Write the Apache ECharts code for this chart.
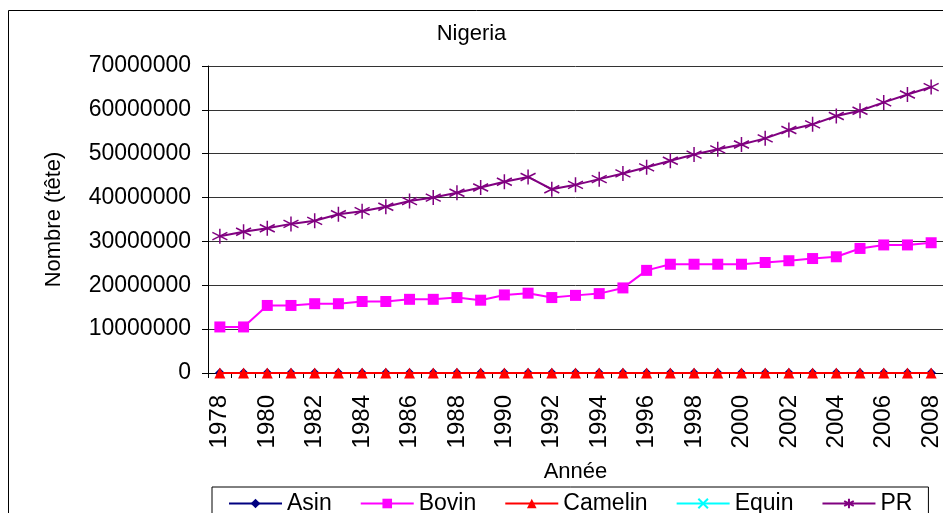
<!DOCTYPE html>
<html>
<head>
<meta charset="utf-8">
<script src="https://cdn.jsdelivr.net/npm/echarts@6/dist/echarts.min.js"></script>
<style>html,body{margin:0;padding:0;background:#fff;}#c{width:943px;height:513px;}</style>
</head>
<body>
<div id="c"></div>
<script>
const years = ['1978','1979','1980','1981','1982','1983','1984','1985','1986','1987','1988','1989','1990','1991','1992','1993','1994','1995','1996','1997','1998','1999','2000','2001','2002','2003','2004','2005','2006','2007','2008'];
const asin = [0,0,0,0,0,0,0,0,0,0,0,0,0,0,0,0,0,0,0,0,0,0,0,0,0,0,0,0,0,0,0];
const bovin = [10500000,10500000,15400000,15400000,15800000,15800000,16300000,16300000,16800000,16800000,17200000,16600000,17800000,18200000,17200000,17700000,18100000,19400000,23400000,24800000,24800000,24800000,24800000,25200000,25600000,26100000,26500000,28400000,29200000,29200000,29700000];
const camelin = [0,0,0,0,0,0,0,0,0,0,0,0,0,0,0,0,0,0,0,0,0,0,0,0,0,0,0,0,0,0,0];
const equin = [];
const pr = [31200000,32200000,33000000,34000000,34700000,36200000,36900000,37900000,39200000,40000000,41100000,42300000,43600000,44700000,41900000,42900000,44200000,45500000,46900000,48400000,49800000,51000000,52100000,53500000,55400000,56700000,58600000,59800000,61700000,63500000,65200000];
const yTicks = {min: 0, max: 70000000, interval: 10000000};

const FONT = "'Liberation Sans', Arial, sans-serif";
const star = 'path://M0,-1L0,1M-0.87,-0.5L0.87,0.5M-0.87,0.5L0.87,-0.5';
const cross = 'path://M-1,-1L1,1M-1,1L1,-1';

const chart = echarts.init(document.getElementById('c'), null, {renderer: 'canvas'});
chart.setOption({
  animation: false,
  backgroundColor: '#fff',
  textStyle: {fontFamily: FONT, color: '#000'},
  title: {
    text: 'Nigeria', left: 'center', top: 18,
    textStyle: {fontFamily: FONT, fontSize: 22, fontWeight: 'normal', color: '#000'}
  },
  graphic: [{
    type: 'rect', silent: true,
    shape: {x: 8.5, y: 10.5, width: 1000, height: 600},
    style: {fill: 'none', stroke: '#000', lineWidth: 1}
  }],
  legend: {
    left: 212, top: 487,
    padding: [5, 16, 12, 16],
    borderColor: '#000', borderWidth: 1,
    itemWidth: 53, itemHeight: 12, itemGap: 28,
    textStyle: {fontFamily: FONT, fontSize: 23, color: '#000'},
    data: ['Asin', 'Bovin', 'Camelin', 'Equin', 'PR']
  },
  grid: {left: 208, top: 66, width: 744, height: 307, containLabel: false},
  xAxis: {
    type: 'category', data: years, boundaryGap: true,
    name: 'Année', nameLocation: 'middle', nameGap: 88,
    nameTextStyle: {fontFamily: FONT, fontSize: 22, color: '#000'},
    axisLine: {lineStyle: {color: '#000', width: 1}},
    axisTick: {show: true, interval: 0, length: 5, lineStyle: {color: '#000'}},
    axisLabel: {interval: 1, rotate: 90, margin: 22, fontFamily: FONT, fontSize: 24, color: '#000'},
    splitLine: {show: false}
  },
  yAxis: {
    type: 'value', min: yTicks.min, max: yTicks.max, interval: yTicks.interval,
    name: 'Nombre (tête)', nameLocation: 'middle', nameGap: 143,
    nameTextStyle: {fontFamily: FONT, fontSize: 22, color: '#000'},
    axisLine: {show: true, lineStyle: {color: '#000', width: 1}},
    axisTick: {show: true, length: 6, lineStyle: {color: '#000'}},
    axisLabel: {margin: 17, fontFamily: FONT, fontSize: 23, color: '#000', formatter: v => String(v)},
    splitLine: {show: true, lineStyle: {color: '#333', width: 1}}
  },
  series: [
    {name: 'Asin', type: 'line', data: asin, symbol: 'diamond', symbolSize: 10, z: 1,
     itemStyle: {color: '#000080'}, lineStyle: {color: '#000080', width: 2}},
    {name: 'Bovin', type: 'line', data: bovin, symbol: 'rect', symbolSize: 11, z: 2,
     itemStyle: {color: '#FF00FF'}, lineStyle: {color: '#FF00FF', width: 2}},
    {name: 'Camelin', type: 'line', data: camelin, symbol: 'triangle', symbolSize: 11, z: 3,
     itemStyle: {color: '#FF0000'}, lineStyle: {color: '#FF0000', width: 2}},
    {name: 'Equin', type: 'line', data: equin, symbol: cross, symbolSize: 11, z: 4,
     itemStyle: {color: '#00FFFF', borderColor: '#00FFFF', borderWidth: 1.5}, lineStyle: {color: '#00FFFF', width: 2}},
    {name: 'PR', type: 'line', data: pr, symbol: star, symbolSize: 15, z: 5,
     itemStyle: {color: '#800080', borderColor: '#800080', borderWidth: 1.5}, lineStyle: {color: '#800080', width: 2}}
  ]
});
</script>
</body>
</html>
